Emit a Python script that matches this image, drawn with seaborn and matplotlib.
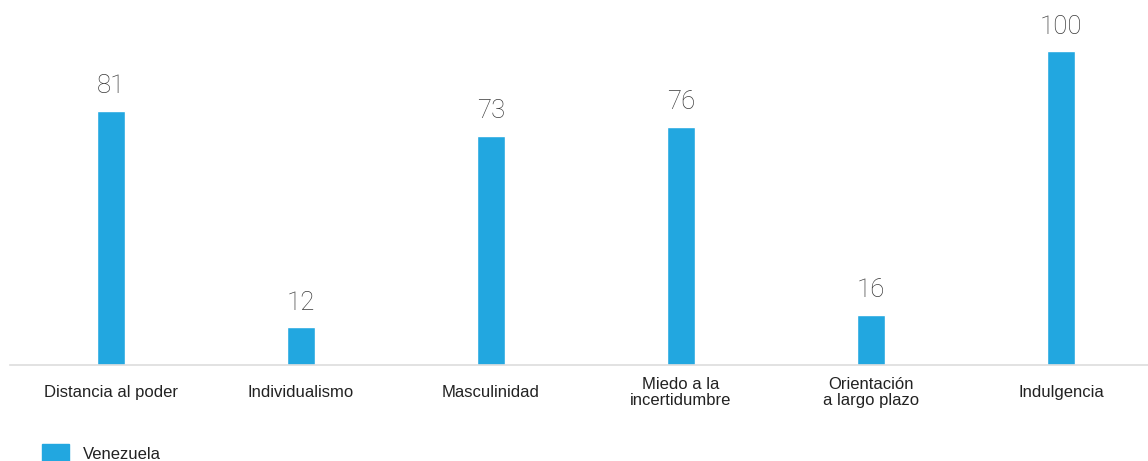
import pandas as pd
import matplotlib.pyplot as plt
import matplotlib.patches as mpatches
import seaborn as sns

# Hofstede dimensions - Venezuela
dimensiones = ['Distancia al poder', 'Individualismo', 'Masculinidad',
               'Miedo a la\nincertidumbre', 'Orientación\na largo plazo', 'Indulgencia']
valores = [81, 12, 73, 76, 16, 100]
pais = 'Venezuela'
color_barra = '#22a7e0'

df = pd.DataFrame({'dimension': dimensiones, 'valor': valores})

sns.set_style('white')
plt.rcParams['font.family'] = ['Liberation Sans', 'DejaVu Sans']

fig = plt.figure(figsize=(11.48, 4.61), dpi=100)
ax = fig.add_axes([10 / 1148, 96 / 461, 1138 / 1148, 345 / 461])

sns.barplot(data=df, x='dimension', y='valor', color=color_barra,
            width=0.15, saturation=1, ax=ax)

# value labels above bars
for i, v in enumerate(valores):
    ax.text(i, v + 4, str(v), ha='center', va='bottom', fontsize=18.5,
            color='#3a3a3a', family='Roboto', fontweight='light')

ax.set_xlim(-0.532, 5.458)
ax.set_ylim(0, 110)
ax.set_xlabel('')
ax.set_ylabel('')
ax.set_yticks([])
sns.despine(ax=ax, left=True, right=True, top=True)
ax.spines['bottom'].set_color('#dddddd')
ax.spines['bottom'].set_linewidth(1.2)

ax.tick_params(axis='x', length=0, pad=20, labelsize=12, labelcolor='#222222')
for lbl in ax.get_xticklabels():
    lbl.set_va('center')
    lbl.set_linespacing(1.05)

handle = mpatches.Patch(color=color_barra, label=pais)
fig.legend(handles=[handle], loc='lower left', bbox_to_anchor=(27 / 1148, -16 / 461),
           frameon=False, fontsize=12, handlelength=1.6, handleheight=1.3,
           handletextpad=0.85, labelcolor='#222222')

fig.savefig('out.png', dpi=100)
